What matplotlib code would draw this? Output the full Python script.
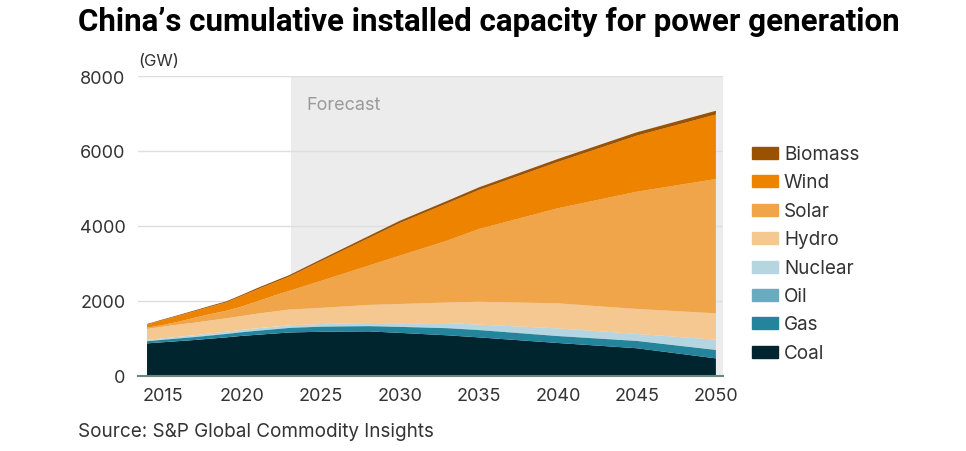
import matplotlib.pyplot as plt
from matplotlib.patches import Rectangle

plt.rcParams['font.family'] = ['Inter', 'DejaVu Sans']

years = [2014, 2015, 2016, 2017, 2018, 2019, 2020, 2021, 2022, 2023,
         2025, 2028, 2030, 2033, 2035, 2040, 2045, 2050]

coal = [870, 900, 930, 960, 995, 1030, 1070, 1100, 1130, 1160,
        1180, 1190, 1150, 1085, 1030, 880, 740, 470]
gas = [57, 66, 72, 78, 84, 90, 98, 108, 115, 122,
       135, 140, 160, 190, 195, 185, 195, 225]
oil = [12, 12, 12, 12, 12, 12, 12, 12, 11, 11,
       10, 10, 10, 10, 10, 10, 8, 8]
nuclear = [20, 27, 33, 36, 45, 49, 50, 53, 56, 57,
           62, 75, 85, 125, 135, 195, 178, 265]
hydro = [295, 310, 325, 335, 345, 355, 370, 390, 405, 420,
         430, 480, 515, 550, 610, 668, 667, 703]
solar = [35, 45, 77, 130, 170, 200, 253, 330, 420, 500,
         720, 1045, 1290, 1650, 1940, 2535, 3127, 3582]
wind = [83, 130, 158, 175, 195, 225, 282, 320, 345, 380,
        525, 732, 870, 995, 1040, 1235, 1495, 1720]
biomass = [15, 18, 20, 22, 25, 28, 30, 36, 38, 40,
           45, 55, 60, 65, 70, 80, 90, 100]

labels = ["Coal", "Gas", "Oil", "Nuclear", "Hydro", "Solar", "Wind", "Biomass"]
colors = ["#00252f", "#23849c", "#6aabbf", "#b5d6e0",
          "#f5c892", "#f0a54a", "#ee8300", "#9b5200"]

fig = plt.figure(figsize=(9.66, 4.52), dpi=100)
ax = fig.add_axes([138 / 966, 75 / 452, 585 / 966, 300 / 452])

ax.axvspan(2023.1, 2050.45, color="#ececec", zorder=0, lw=0)
ax.stackplot(years, coal, gas, oil, nuclear, hydro, solar, wind, biomass,
             colors=colors, zorder=2, lw=0)

ax.set_xlim(2013.43, 2050.45)
ax.set_ylim(0, 8000)
ax.set_xticks(range(2015, 2051, 5))
ax.set_yticks(range(0, 8001, 2000))
ax.yaxis.grid(True, color="#dedede", lw=1, zorder=1)
ax.set_axisbelow(True)
ax.tick_params(axis="both", length=0, labelsize=13, colors="#333333")
ax.tick_params(axis="x", pad=8)
ax.tick_params(axis="y", pad=9)
for side in ["top", "right", "left"]:
    ax.spines[side].set_visible(False)
ax.spines["bottom"].set_color("#6b8580")
ax.spines["bottom"].set_linewidth(1.5)
ax.spines["bottom"].set_zorder(3)

ax.text(2024.1, 7250, "Forecast", fontsize=13, color="#9a9a9a", va="center")

fig.text(78 / 966, 1 - 22 / 452, "China\u2019s cumulative installed capacity for power generation",
         fontsize=22.5, fontweight="bold", va="center", color="#000000",
         family=["Roboto", "DejaVu Sans"])
fig.text(138 / 966, 1 - 61 / 452, "(GW)", fontsize=12, va="center", color="#333333")
fig.text(78 / 966, 1 - 432 / 452, "Source: S&P Global Commodity Insights",
         fontsize=13.6, va="center", color="#333333")

# legend, top to bottom
for i, (name, col) in enumerate(zip(labels[::-1], colors[::-1])):
    y = 154 + i * 28.4
    fig.add_artist(Rectangle((752 / 966, 1 - (y + 6) / 452), 26 / 966, 12 / 452,
                             color=col, transform=fig.transFigure))
    fig.text(784 / 966, 1 - (y + 1) / 452, name, fontsize=13.6, va="center", color="#333333")

plt.savefig("out.png", dpi=100)
